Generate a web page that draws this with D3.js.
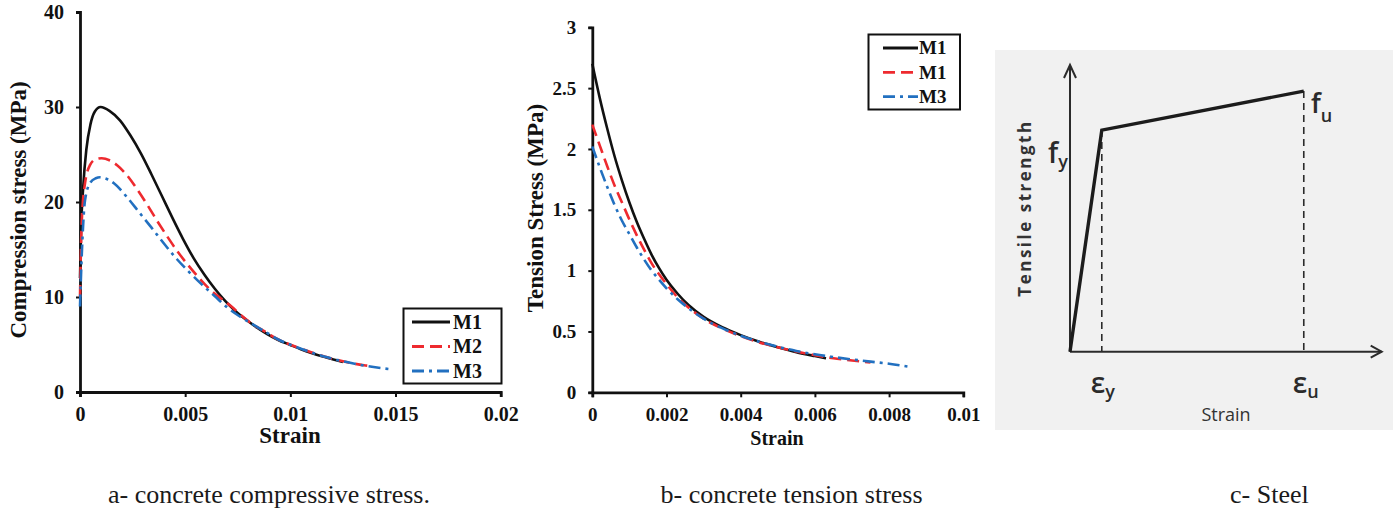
<!DOCTYPE html>
<html>
<head>
<meta charset="utf-8">
<script src="https://cdn.jsdelivr.net/npm/d3@7"></script>
<style>
  body { margin: 0; background: #fff; }
  svg { display: block; }
</style>
</head>
<body>
<svg id="fig" width="1396" height="510"></svg>
<script>
// ---------- a: concrete compressive stress-strain ----------
const compStrainM1 = [0, 0.00005, 0.00015, 0.0003, 0.0005, 0.0007, 0.00098, 0.0014, 0.0019, 0.0024, 0.0029, 0.0034, 0.0039, 0.0044, 0.0049, 0.0054, 0.0059, 0.0064, 0.0069, 0.0074, 0.0079, 0.0084, 0.0089, 0.0094, 0.0100, 0.0105, 0.0110, 0.0115, 0.0120, 0.0125];
const compStressM1 = [12, 17, 21.5, 25.5, 28.2, 29.5, 30.0, 29.6, 28.6, 27.0, 25.1, 22.9, 20.6, 18.3, 16.1, 14.1, 12.4, 10.9, 9.6, 8.5, 7.6, 6.8, 6.1, 5.5, 4.95, 4.5, 4.1, 3.75, 3.45, 3.15];

const compStrainM2 = [0, 0.00008, 0.00024, 0.00048, 0.00075, 0.00103, 0.0014, 0.00175, 0.0022, 0.0027, 0.0032, 0.0037, 0.0042, 0.0047, 0.0052, 0.0057, 0.0062, 0.0067, 0.0072, 0.0077, 0.0082, 0.0088, 0.0094, 0.0100, 0.0106, 0.0112, 0.0118, 0.0124, 0.0130, 0.0135, 0.0139];
const compStressM2 = [10, 17.8, 22.0, 23.9, 24.5, 24.6, 24.4, 23.9, 22.9, 21.4, 19.7, 17.9, 16.2, 14.6, 13.2, 11.9, 10.75, 9.85, 9.0, 8.0, 7.15, 6.35, 5.55, 4.98, 4.48, 4.02, 3.62, 3.28, 3.0, 2.82, 2.72];

const compStrainM3 = [0, 0.00008, 0.00024, 0.00048, 0.00075, 0.00095, 0.0013, 0.0016, 0.0022, 0.0028, 0.0034, 0.0040, 0.0046, 0.0052, 0.0058, 0.0064, 0.0070, 0.0076, 0.0082, 0.0088, 0.0094, 0.0100, 0.0106, 0.0112, 0.0118, 0.0124, 0.0130, 0.0136, 0.0142, 0.0147];
const compStressM3 = [9, 14.2, 20.2, 22.0, 22.5, 22.6, 22.4, 22.0, 20.6, 18.95, 17.3, 15.6, 14.0, 12.6, 11.3, 10.1, 8.9, 7.95, 7.15, 6.35, 5.55, 4.98, 4.48, 4.02, 3.62, 3.28, 3.0, 2.75, 2.55, 2.42];

const compXTicks = [0, 0.005, 0.01, 0.015, 0.02];
const compXLabels = ["0", "0.005", "0.01", "0.015", "0.02"];
const compYTicks = [0, 10, 20, 30, 40];
const compYLabels = ["0", "10", "20", "30", "40"];
const compLegend = ["M1", "M2", "M3"];

// ---------- b: concrete tension stress-strain ----------
const tensStrainM1 = [0, 0.0002, 0.0004, 0.0006, 0.0008, 0.001, 0.0012, 0.0014, 0.0016, 0.0018, 0.002, 0.0023, 0.0026, 0.003, 0.0035, 0.004, 0.0045, 0.005, 0.0055, 0.006, 0.0063];
const tensStressM1 = [2.70, 2.42, 2.17, 1.94, 1.74, 1.56, 1.40, 1.26, 1.13, 1.02, 0.925, 0.81, 0.715, 0.62, 0.535, 0.47, 0.415, 0.37, 0.33, 0.298, 0.28];

const tensStrainM2 = [0, 0.0002, 0.0004, 0.0006, 0.0008, 0.001, 0.0012, 0.0014, 0.0016, 0.0018, 0.002, 0.0023, 0.0026, 0.003, 0.0035, 0.004, 0.0045, 0.005, 0.0055, 0.006, 0.0065, 0.007, 0.0075];
const tensStressM2 = [2.20, 2.03, 1.86, 1.70, 1.56, 1.42, 1.29, 1.17, 1.06, 0.97, 0.89, 0.78, 0.695, 0.605, 0.525, 0.462, 0.41, 0.37, 0.335, 0.305, 0.28, 0.262, 0.245];

const tensStrainM3 = [0, 0.0002, 0.0004, 0.0006, 0.0008, 0.001, 0.0012, 0.0014, 0.0016, 0.0018, 0.002, 0.0023, 0.0026, 0.003, 0.0035, 0.004, 0.0045, 0.005, 0.0055, 0.006, 0.0065, 0.007, 0.0075, 0.008, 0.00855];
const tensStressM3 = [2.02, 1.85, 1.69, 1.54, 1.41, 1.30, 1.19, 1.09, 1.00, 0.925, 0.855, 0.765, 0.69, 0.605, 0.527, 0.465, 0.415, 0.375, 0.34, 0.312, 0.29, 0.27, 0.252, 0.235, 0.21];

const tensXTicks = [0, 0.002, 0.004, 0.006, 0.008, 0.01];
const tensXLabels = ["0", "0.002", "0.004", "0.006", "0.008", "0.01"];
const tensYTicks = [0, 0.5, 1, 1.5, 2, 2.5, 3];
const tensYLabels = ["0", "0.5", "1", "1.5", "2", "2.5", "3"];
const tensLegend = ["M1", "M1", "M3"];

// ---------- c: idealised steel (normalised strain / strength) ----------
const steelStrain = [0, 0.102, 0.75];
const steelStress = [0, 0.773, 0.909];
const steelMarks = [
  { base: "\u03b5", sub: "y" },
  { base: "\u03b5", sub: "u" }
];

const captions = ["a- concrete compressive stress.", "b- concrete tension stress", "c- Steel"];

// ---------- shared styles ----------
const seriesColor = ["#111111", "#ee2a2f", "#2270c0"];
const seriesDash = [null, "12,6", "12,5,3,5"];
const serif = "'Liberation Serif', 'Times New Roman', serif";
const sans = "'Open Sans', 'Noto Sans', sans-serif";

const svg = d3.select("#fig");

function zip(xs, ys) { return xs.map((x, i) => [x, ys[i]]); }

function drawPanel(cfg) {
  const g = svg.append("g");
  const x = d3.scaleLinear().domain(cfg.xDomain).range(cfg.xRange);
  const y = d3.scaleLinear().domain(cfg.yDomain).range(cfg.yRange);

  const xAxis = d3.axisBottom(x).tickValues(cfg.xTicks)
    .tickFormat((d, i) => cfg.xLabels[i]).tickSizeOuter(0).tickSize(5).tickPadding(cfg.xPad);
  const yAxis = d3.axisLeft(y).tickValues(cfg.yTicks)
    .tickFormat((d, i) => cfg.yLabels[i]).tickSizeOuter(0).tickSize(4).tickPadding(cfg.yPad);

  const gx = g.append("g").attr("transform", `translate(0,${cfg.yRange[0]})`).call(xAxis);
  const gy = g.append("g").attr("transform", `translate(${cfg.xRange[0]},0)`).call(yAxis);
  [gx, gy].forEach(a => {
    a.select(".domain").attr("stroke", "#111").attr("stroke-width", 2.8);
    a.selectAll(".tick line").attr("stroke", "#111").attr("stroke-width", 2);
    a.selectAll(".tick text").attr("fill", "#111")
      .style("font-family", serif).style("font-weight", "bold").style("font-size", cfg.tickFont + "px");
  });

  const line = d3.line().x(d => x(d[0])).y(d => y(d[1])).curve(d3.curveMonotoneX);
  cfg.series.forEach((s, i) => {
    g.append("path").datum(s)
      .attr("d", line)
      .attr("fill", "none")
      .attr("stroke", seriesColor[i])
      .attr("stroke-width", 2.6)
      .attr("stroke-dasharray", seriesDash[i]);
  });

  // legend
  const L = cfg.legend;
  g.append("rect").attr("x", L.x).attr("y", L.y).attr("width", L.w).attr("height", L.h)
    .attr("fill", "#fff").attr("stroke", "#111").attr("stroke-width", 2);
  cfg.names.forEach((n, i) => {
    const cy = L.y + L.first + i * L.step;
    g.append("line").attr("x1", L.lx1).attr("x2", L.lx2).attr("y1", cy).attr("y2", cy)
      .attr("stroke", seriesColor[i]).attr("stroke-width", 2.8)
      .attr("stroke-dasharray", seriesDash[i]);
    g.append("text").attr("x", L.tx).attr("y", cy).attr("dy", "0.34em")
      .attr("fill", "#111").style("font-family", serif).style("font-weight", "bold")
      .style("font-size", L.font + "px").text(n);
  });

  // axis titles
  g.append("text").attr("x", cfg.xTitle.x).attr("y", cfg.xTitle.y)
    .attr("text-anchor", "middle").attr("fill", "#111")
    .attr("clip-path", cfg.xTitle.clip || null)
    .style("font-family", serif).style("font-weight", "bold").style("font-size", cfg.xTitle.font + "px")
    .text("Strain");
  g.append("text")
    .attr("transform", `translate(${cfg.yTitle.x},${cfg.yTitle.y}) rotate(-90)`)
    .attr("text-anchor", "middle").attr("fill", "#111")
    .style("font-family", serif).style("font-weight", "bold").style("font-size", cfg.yTitle.font + "px")
    .text(cfg.yTitle.text);
}

// clip for the truncated "Strain" title of panel b
svg.append("defs").append("clipPath").attr("id", "clipB")
  .append("rect").attr("x", 700).attr("y", 400).attr("width", 160).attr("height", 45.5);

drawPanel({
  xDomain: [0, 0.02], xRange: [80, 500.7],
  yDomain: [0, 40], yRange: [392, 12],
  xTicks: compXTicks, xLabels: compXLabels, yTicks: compYTicks, yLabels: compYLabels,
  xPad: 10, yPad: 12, tickFont: 20,
  series: [zip(compStrainM1, compStressM1), zip(compStrainM2, compStressM2), zip(compStrainM3, compStressM3)],
  names: compLegend,
  legend: { x: 403.5, y: 308.5, w: 98, h: 75, first: 13.5, step: 24.5, lx1: 412, lx2: 450, tx: 453, font: 20 },
  xTitle: { x: 290, y: 443, font: 23 },
  yTitle: { x: 26, y: 210, font: 23, text: "Compression stress (MPa)" }
});

drawPanel({
  xDomain: [0, 0.01], xRange: [592.3, 963.3],
  yDomain: [0, 3], yRange: [392.3, 27.3],
  xTicks: tensXTicks, xLabels: tensXLabels, yTicks: tensYTicks, yLabels: tensYLabels,
  xPad: 10, yPad: 12, tickFont: 19,
  series: [zip(tensStrainM1, tensStressM1), zip(tensStrainM2, tensStressM2), zip(tensStrainM3, tensStressM3)],
  names: tensLegend,
  legend: { x: 868.5, y: 34.5, w: 91.5, h: 75, first: 13.5, step: 24.3, lx1: 883, lx2: 918, tx: 919, font: 19 },
  xTitle: { x: 777, y: 444.5, font: 20, clip: "url(#clipB)" },
  yTitle: { x: 543, y: 208, font: 23, text: "Tension Stress (MPa)" }
});

// ---------- panel c ----------
(function () {
  const g = svg.append("g");
  g.append("rect").attr("x", 995).attr("y", 50).attr("width", 398).attr("height", 380).attr("fill", "#f1f1f1");

  const x = d3.scaleLinear().domain([0, 1]).range([1070, 1381.7]);
  const y = d3.scaleLinear().domain([0, 1]).range([351.7, 65]);
  const ink = "#2b2b2b";

  // axes with open arrowheads
  g.append("line").attr("x1", x(0)).attr("y1", y(0)).attr("x2", x(0)).attr("y2", y(1))
    .attr("stroke", ink).attr("stroke-width", 2);
  g.append("line").attr("x1", x(0)).attr("y1", y(0)).attr("x2", x(1)).attr("y2", y(0))
    .attr("stroke", ink).attr("stroke-width", 2);
  g.append("path").attr("d", `M${x(0) - 6},${y(1) + 13} L${x(0)},${y(1)} L${x(0) + 6},${y(1) + 13}`)
    .attr("fill", "none").attr("stroke", ink).attr("stroke-width", 2);
  g.append("path").attr("d", `M${x(1) - 11},${y(0) - 6} L${x(1)},${y(0)} L${x(1) - 11},${y(0) + 6}`)
    .attr("fill", "none").attr("stroke", ink).attr("stroke-width", 2);

  // dashed drop lines at yield and ultimate
  [1, 2].forEach(i => {
    g.append("line").attr("x1", x(steelStrain[i])).attr("x2", x(steelStrain[i]))
      .attr("y1", y(steelStress[i])).attr("y2", y(0))
      .attr("stroke", ink).attr("stroke-width", 1.6).attr("stroke-dasharray", "7,5");
  });

  // bilinear steel law
  g.append("path").datum(zip(steelStrain, steelStress))
    .attr("d", d3.line().x(d => x(d[0])).y(d => y(d[1])))
    .attr("fill", "none").attr("stroke", "#1c1c1c").attr("stroke-width", 3.4).attr("stroke-linejoin", "miter");

  const lab = (px, py, base, sub, fs, ss, sdy) => {
    const t = g.append("text").attr("x", px).attr("y", py).attr("fill", ink)
      .style("font-family", sans).style("font-weight", 600).style("font-size", fs + "px");
    t.append("tspan").text(base);
    t.append("tspan").attr("dy", sdy).style("font-size", ss + "px").text(sub);
  };
  lab(1048, 163, "f", "y", 28, 18, 5);
  lab(1311, 113, "f", "u", 27, 18, 9);
  steelMarks.forEach((m, i) => {
    lab(x(steelStrain[i + 1]) - 11, 393, m.base, m.sub, 28, 18, 5);
  });

  g.append("text").attr("x", 1226).attr("y", 421).attr("text-anchor", "middle").attr("fill", "#333")
    .style("font-family", sans).style("font-size", "18px").text("Strain");
  g.append("text").attr("transform", "translate(1031,208) rotate(-90)")
    .attr("text-anchor", "middle").attr("fill", "#333")
    .style("font-family", sans).style("font-weight", "bold").style("font-size", "17px")
    .style("letter-spacing", "2.5px").text("Tensile strength");
})();

// ---------- captions ----------
const capX = [108, 660.5, 1230];
svg.selectAll("text.caption").data(captions).join("text")
  .attr("class", "caption")
  .attr("x", (d, i) => capX[i]).attr("y", 503)
  .attr("fill", "#1a1a1a")
  .style("font-family", serif).style("font-size", "26px")
  .text(d => d);
</script>
</body>
</html>
